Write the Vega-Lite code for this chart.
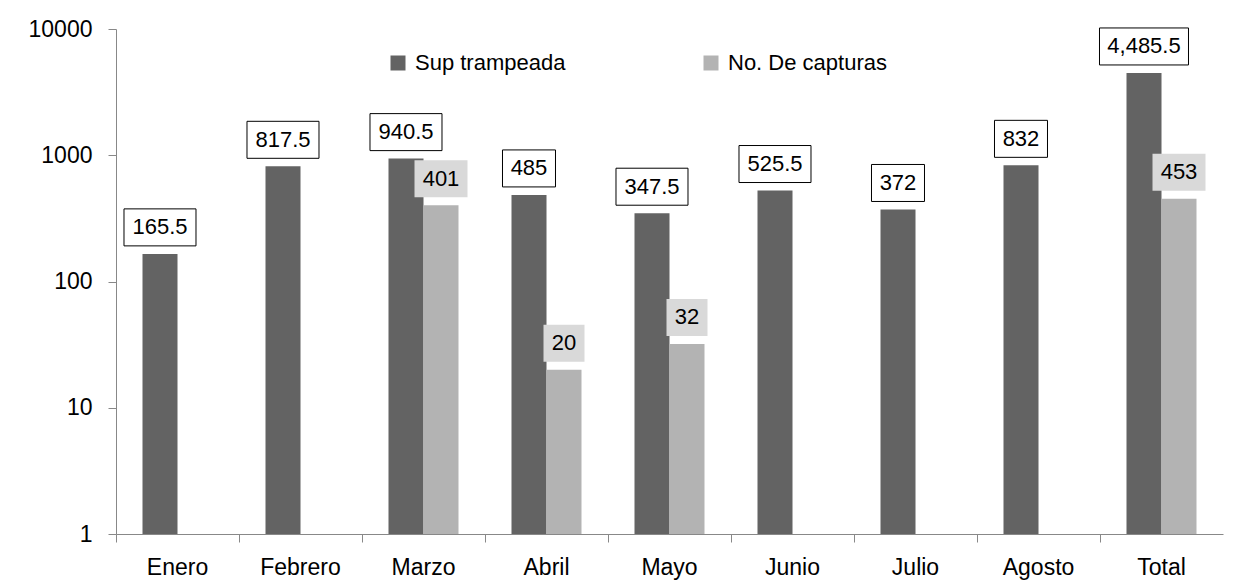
{
  "$schema": "https://vega.github.io/schema/vega-lite/v6.json",
  "width": 1107,
  "height": 505,
  "autosize": "none",
  "padding": {"left": 116, "top": 29, "right": 13, "bottom": 48},
  "background": "white",
  "config": {"font": "Liberation Sans", "view": {"stroke": null}},
  "data": {
    "values": [
      {"mes": "Enero", "serie": "Sup trampeada", "v": 165.5, "lab": "165.5"},
      {"mes": "Febrero", "serie": "Sup trampeada", "v": 817.5, "lab": "817.5"},
      {"mes": "Marzo", "serie": "Sup trampeada", "v": 940.5, "lab": "940.5"},
      {"mes": "Marzo", "serie": "No. De capturas", "v": 401, "lab": "401"},
      {"mes": "Abril", "serie": "Sup trampeada", "v": 485, "lab": "485"},
      {"mes": "Abril", "serie": "No. De capturas", "v": 20, "lab": "20"},
      {"mes": "Mayo", "serie": "Sup trampeada", "v": 347.5, "lab": "347.5"},
      {"mes": "Mayo", "serie": "No. De capturas", "v": 32, "lab": "32"},
      {"mes": "Junio", "serie": "Sup trampeada", "v": 525.5, "lab": "525.5"},
      {"mes": "Julio", "serie": "Sup trampeada", "v": 372, "lab": "372"},
      {"mes": "Agosto", "serie": "Sup trampeada", "v": 832, "lab": "832"},
      {"mes": "Total", "serie": "Sup trampeada", "v": 4485.5, "lab": "4,485.5"},
      {"mes": "Total", "serie": "No. De capturas", "v": 453, "lab": "453"}
    ]
  },
  "encoding": {
    "x": {
      "field": "mes",
      "type": "nominal",
      "sort": ["Enero", "Febrero", "Marzo", "Abril", "Mayo", "Junio", "Julio", "Agosto", "Total"],
      "scale": {"paddingInner": 0, "paddingOuter": 0},
      "axis": {
        "title": null,
        "labelAngle": 0,
        "labelFontSize": 23,
        "labelColor": "black",
        "tickSize": 8,
        "bandPosition": 0,
        "domainColor": "#888888",
        "tickColor": "#888888",
        "labelPadding": 14
      }
    },
    "xOffset": {
      "field": "serie",
      "type": "nominal",
      "scale": {"domain": ["Sup trampeada", "No. De capturas"], "paddingInner": 0, "paddingOuter": 0.757}
    },
    "y": {
      "field": "v",
      "type": "quantitative",
      "stack": null,
      "scale": {"type": "log", "domain": [1, 10000], "nice": false},
      "axis": {
        "title": null,
        "values": [1, 10, 100, 1000, 10000],
        "format": "d",
        "labelFontSize": 23,
        "labelColor": "black",
        "tickSize": 8,
        "labelPadding": 16,
        "domainColor": "#888888",
        "tickColor": "#888888",
        "grid": false
      }
    }
  },
  "layer": [
    {
      "mark": {"type": "bar"},
      "encoding": {
        "color": {
          "field": "serie",
          "type": "nominal",
          "scale": {"domain": ["Sup trampeada", "No. De capturas"], "range": ["#636363", "#b3b3b3"]},
          "legend": {
            "orient": "none",
            "legendX": 271,
            "legendY": 23,
            "direction": "horizontal",
            "title": null,
            "symbolType": "square",
            "symbolSize": 225,
            "symbolStrokeWidth": 0,
            "symbolOpacity": 1,
            "labelFontSize": 22,
            "labelColor": "black",
            "columnPadding": 134,
            "labelOffset": 6,
            "padding": 0,
            "labelLimit": 400
          }
        }
      }
    },
    {
      "transform": [{"filter": "datum.serie === 'Sup trampeada'"}],
      "mark": {"type": "point", "filled": true, "fill": "white", "stroke": "black", "strokeWidth": 1, "opacity": 1, "size": 4},
      "encoding": {
        "shape": {
          "field": "lab",
          "type": "nominal",
          "legend": null,
          "scale": {
            "domain": ["165.5", "817.5", "940.5", "485", "347.5", "525.5", "372", "832", "4,485.5", "401", "20", "32", "453"],
            "range": [
              "M-36,-45H36V-8H-36Z",
              "M-36,-45H36V-8H-36Z",
              "M-36,-45H36V-8H-36Z",
              "M-26.5,-45H26.5V-8H-26.5Z",
              "M-36,-45H36V-8H-36Z",
              "M-36,-45H36V-8H-36Z",
              "M-26.5,-45H26.5V-8H-26.5Z",
              "M-26.5,-45H26.5V-8H-26.5Z",
              "M-44.5,-45H44.5V-8H-44.5Z",
              "M-26.5,-45H26.5V-8H-26.5Z",
              "M-20.5,-45H20.5V-8H-20.5Z",
              "M-20.5,-45H20.5V-8H-20.5Z",
              "M-26.5,-45H26.5V-8H-26.5Z"
            ]
          }
        }
      }
    },
    {
      "transform": [{"filter": "datum.serie === 'No. De capturas'"}],
      "mark": {"type": "point", "filled": true, "fill": "#d9d9d9", "strokeWidth": 0, "opacity": 1, "size": 4},
      "encoding": {
        "shape": {"field": "lab", "type": "nominal", "legend": null}
      }
    },
    {
      "mark": {"type": "text", "dy": -26.5, "fontSize": 22, "baseline": "middle", "align": "center", "color": "black"},
      "encoding": {"text": {"field": "lab"}}
    }
  ]
}
